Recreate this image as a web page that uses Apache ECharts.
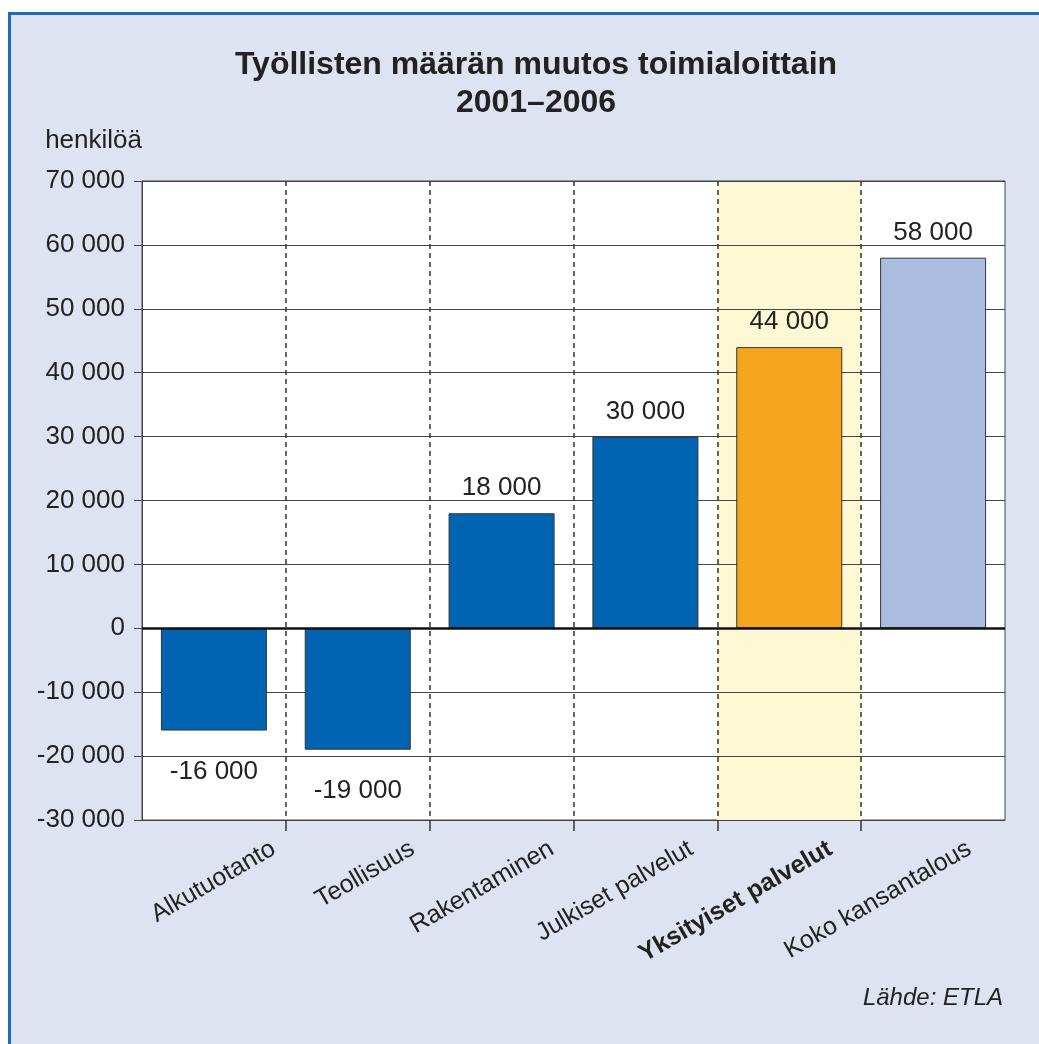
<!DOCTYPE html>
<html>
<head>
<meta charset="utf-8">
<script src="https://cdn.jsdelivr.net/npm/echarts@6/dist/echarts.min.js"></script>
<style>
  html, body { margin: 0; padding: 0; background: #ffffff; }
  #frame {
    position: absolute; left: 8px; top: 12px; width: 1100px; height: 1100px;
    background: #dee3f2; border-left: 3px solid #1a6cc2; border-top: 3px solid #1a6cc2;
  }
  #chart_1 { position: absolute; left: 0; top: 0; width: 1039px; height: 1044px; }
</style>
</head>
<body>
<div id="frame"></div>
<div id="chart_1"></div>
<script>
'use strict';
// data
var categories = ['Alkutuotanto', 'Teollisuus', 'Rakentaminen', 'Julkiset palvelut', 'Yksityiset palvelut', 'Koko kansantalous'];
var changes = [-16000, -19000, 18000, 30000, 44000, 58000];
var highlighted = 'Yksityiset palvelut';
var total = 'Koko kansantalous';

var FONT = "'Liberation Sans', Arial, sans-serif";

function fmt(v) {
  return String(v).replace(/\B(?=(\d{3})+(?!\d))/g, ' ');
}

function barColor(name) {
  if (name === highlighted) return '#f6a51e';
  if (name === total) return '#aabde1';
  return '#0064b2';
}

var hiIndex = categories.indexOf(highlighted);
// inner boundaries between categories (no tick at the plot corners)
var innerBounds = categories.slice(1).map(function (c, i) { return i + 1; });

var myChart = echarts.init(document.getElementById('chart_1'));
var option = {
  animation: false,
  backgroundColor: 'transparent',
  textStyle: { fontFamily: FONT, color: '#222' },
  title: {
    text: 'Työllisten määrän muutos toimialoittain\n2001–2006',
    left: 531,
    top: 41,
    textAlign: 'center',
    textStyle: { fontFamily: FONT, fontSize: 32, fontWeight: 'bold', lineHeight: 38, color: '#222' }
  },
  graphic: [{
    type: 'text',
    right: 36,
    top: 986,
    style: { text: 'Lähde: ETLA', font: 'italic 24px ' + FONT, fill: '#222' }
  }],
  grid: [
    { left: 142, right: 34, top: 181, bottom: 224, show: true, z: -2,
      backgroundColor: '#ffffff', borderColor: '#444', borderWidth: 1 },
    // second grid only carries the slanted category labels, shifted right as in the original
    { left: 204, right: -28, top: 181, bottom: 224 }
  ],
  xAxis: [
    {
      gridIndex: 0,
      type: 'category',
      data: categories,
      axisLine: { onZero: false, lineStyle: { color: '#444', width: 1 } },
      axisTick: { show: false },
      axisLabel: { show: false },
      splitLine: { show: true, showMinLine: false, showMaxLine: false,
        lineStyle: { color: '#333', width: 1.5, type: [5, 4] } }
    },
    {
      gridIndex: 1,
      type: 'category',
      data: categories,
      axisLine: { show: false, onZero: false },
      axisTick: { show: false },
      splitLine: { show: false },
      axisLabel: {
        interval: 0,
        rotate: 30,
        margin: 27,
        fontSize: 25,
        fontFamily: FONT,
        color: '#222',
        formatter: function (v) { return v === highlighted ? '{b|' + v + '}' : v; },
        rich: { b: { fontWeight: 'bold', fontSize: 25, fontFamily: FONT, color: '#222' } }
      }
    },
    {
      // index scale over the category slots: carries the outer ticks and the highlight band
      gridIndex: 0,
      type: 'value',
      position: 'bottom',
      min: 0,
      max: categories.length,
      interval: 1,
      axisLine: { show: false, onZero: false },
      axisTick: { show: true, length: 11, customValues: innerBounds,
        lineStyle: { color: '#333', width: 1.5 } },
      axisLabel: { show: false },
      splitLine: { show: false }
    }
  ],
  yAxis: [
    {
      gridIndex: 0,
      type: 'value',
      min: -30000,
      max: 70000,
      interval: 10000,
      name: 'henkilöä',
      nameLocation: 'end',
      nameGap: 27,
      nameTextStyle: { fontSize: 26, fontFamily: FONT, color: '#222', align: 'right' },
      axisLine: { show: true, lineStyle: { color: '#444', width: 1 } },
      axisTick: { show: true, length: 8, lineStyle: { color: '#444' } },
      axisLabel: { fontSize: 26, fontFamily: FONT, color: '#222', margin: 17, formatter: fmt },
      splitLine: { show: true, lineStyle: { color: '#444', width: 1 } }
    },
    { gridIndex: 1, type: 'value', min: -30000, max: 70000, show: false }
  ],
  series: [
    {
      type: 'bar',
      xAxisIndex: 0,
      yAxisIndex: 0,
      z: 2,
      barWidth: 106,
      data: changes.map(function (v, i) {
        return {
          value: v,
          itemStyle: { color: barColor(categories[i]) },
          label: v < 0 ? { position: 'bottom', distance: 28 } : { position: 'top', distance: 12 }
        };
      }),
      itemStyle: { borderColor: '#333', borderWidth: 1 },
      label: { show: true, fontSize: 26, fontFamily: FONT, color: '#222',
        formatter: function (p) { return fmt(p.value); } },
      markLine: {
        silent: true,
        symbol: 'none',
        label: { show: false },
        lineStyle: { color: '#111', width: 2.5, type: 'solid' },
        data: [{ yAxis: 0 }]
      }
    },
    {
      // carries the pale yellow band behind the highlighted category
      type: 'line',
      xAxisIndex: 2,
      yAxisIndex: 0,
      data: [],
      markArea: {
        silent: true,
        z: -1,
        itemStyle: { color: '#fff8d4' },
        data: [[{ xAxis: hiIndex, yAxis: -30000 }, { xAxis: hiIndex + 1, yAxis: 70000 }]]
      }
    }
  ]
};
myChart.setOption(option);
</script>
</body>
</html>
